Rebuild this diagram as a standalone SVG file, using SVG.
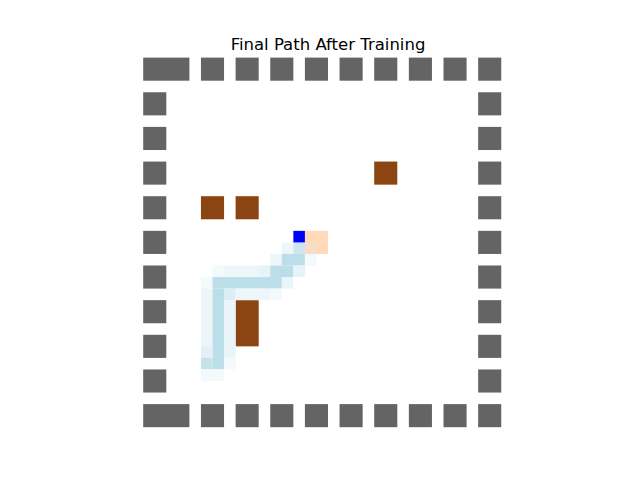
<svg xmlns="http://www.w3.org/2000/svg" width="640" height="480" viewBox="0 0 640 480">
<style>
.wall{fill:#646464}
.obs{fill:#8B4513}
.goal{fill:#FFDAB9}
.agent{fill:#0000FF}
.b{fill:#BCDEE9}
.m{fill:#CCE5EE}
.l{fill:#DCEEF5}
.p{fill:#EDF6F9}
.f{fill:#F4F9FC}
.title{font-family:"DejaVu Sans",sans-serif;font-size:16.5px;fill:#000}
</style>
<rect width="640" height="480" fill="#fff"/>
<text class="title" x="328" y="49.5" text-anchor="middle">Final Path After Training</text>
<g transform="translate(143.2,57.6) scale(11.55)">
<g id="walls">
<rect class="wall" x="0" y="0" width="4" height="2"/>
<rect class="wall" x="5" y="0" width="2" height="2"/>
<rect class="wall" x="8" y="0" width="2" height="2"/>
<rect class="wall" x="11" y="0" width="2" height="2"/>
<rect class="wall" x="14" y="0" width="2" height="2"/>
<rect class="wall" x="17" y="0" width="2" height="2"/>
<rect class="wall" x="20" y="0" width="2" height="2"/>
<rect class="wall" x="23" y="0" width="2" height="2"/>
<rect class="wall" x="26" y="0" width="2" height="2"/>
<rect class="wall" x="29" y="0" width="2" height="2"/>
<rect class="wall" x="0" y="30" width="4" height="2"/>
<rect class="wall" x="5" y="30" width="2" height="2"/>
<rect class="wall" x="8" y="30" width="2" height="2"/>
<rect class="wall" x="11" y="30" width="2" height="2"/>
<rect class="wall" x="14" y="30" width="2" height="2"/>
<rect class="wall" x="17" y="30" width="2" height="2"/>
<rect class="wall" x="20" y="30" width="2" height="2"/>
<rect class="wall" x="23" y="30" width="2" height="2"/>
<rect class="wall" x="26" y="30" width="2" height="2"/>
<rect class="wall" x="29" y="30" width="2" height="2"/>
<rect class="wall" x="0" y="3" width="2" height="2"/>
<rect class="wall" x="0" y="6" width="2" height="2"/>
<rect class="wall" x="0" y="9" width="2" height="2"/>
<rect class="wall" x="0" y="12" width="2" height="2"/>
<rect class="wall" x="0" y="15" width="2" height="2"/>
<rect class="wall" x="0" y="18" width="2" height="2"/>
<rect class="wall" x="0" y="21" width="2" height="2"/>
<rect class="wall" x="0" y="24" width="2" height="2"/>
<rect class="wall" x="0" y="27" width="2" height="2"/>
<rect class="wall" x="29" y="3" width="2" height="2"/>
<rect class="wall" x="29" y="6" width="2" height="2"/>
<rect class="wall" x="29" y="9" width="2" height="2"/>
<rect class="wall" x="29" y="12" width="2" height="2"/>
<rect class="wall" x="29" y="15" width="2" height="2"/>
<rect class="wall" x="29" y="18" width="2" height="2"/>
<rect class="wall" x="29" y="21" width="2" height="2"/>
<rect class="wall" x="29" y="24" width="2" height="2"/>
<rect class="wall" x="29" y="27" width="2" height="2"/>
</g>
<g id="obstacles">
<rect class="obs" x="20" y="9" width="2" height="2"/>
<rect class="obs" x="5" y="12" width="2" height="2"/>
<rect class="obs" x="8" y="12" width="2" height="2"/>
<rect class="obs" x="8" y="21" width="2" height="4"/>
</g>
<g id="goal"><rect class="goal" x="14" y="15" width="2" height="2"/></g>
<g id="path">
<rect class="p" x="12" y="16" width="1" height="1"/>
<rect class="m" x="13" y="16" width="1" height="1"/>
<rect fill="#F5DEC5" x="14" y="16" width="1" height="1"/>
<rect class="p" x="11" y="17" width="1" height="1"/>
<rect class="b" x="12" y="17" width="2" height="1"/>
<rect class="f" x="14" y="17" width="1" height="1"/>
<rect class="f" x="6" y="18" width="1" height="1"/>
<rect class="p" x="7" y="18" width="3" height="1"/>
<rect fill="#E7F3F8" x="10" y="18" width="1" height="1"/>
<rect class="b" x="11" y="18" width="2" height="1"/>
<rect fill="#E7F3F8" x="13" y="18" width="1" height="1"/>
<rect class="f" x="5" y="19" width="1" height="1"/>
<rect class="b" x="6" y="19" width="6" height="1"/>
<rect fill="#E9F5F8" x="12" y="19" width="1" height="1"/>
<rect class="p" x="5" y="20" width="1" height="5"/>
<rect class="b" x="6" y="20" width="1" height="7"/>
<rect class="l" x="7" y="20" width="1" height="1"/>
<rect class="p" x="8" y="20" width="3" height="1"/>
<rect class="f" x="11" y="20" width="1" height="1"/>
<rect fill="#EAF5FA" x="7" y="21" width="1" height="5"/>
<rect fill="#E3F0F7" x="5" y="25" width="1" height="1"/>
<rect fill="#C6E2EB" x="5" y="26" width="1" height="1"/>
<rect class="f" x="7" y="26" width="1" height="1"/>
<rect class="f" x="5" y="27" width="2" height="1"/>
</g>
<g id="agent"><rect class="agent" x="13" y="15" width="1" height="1"/></g>
</g>
</svg>
